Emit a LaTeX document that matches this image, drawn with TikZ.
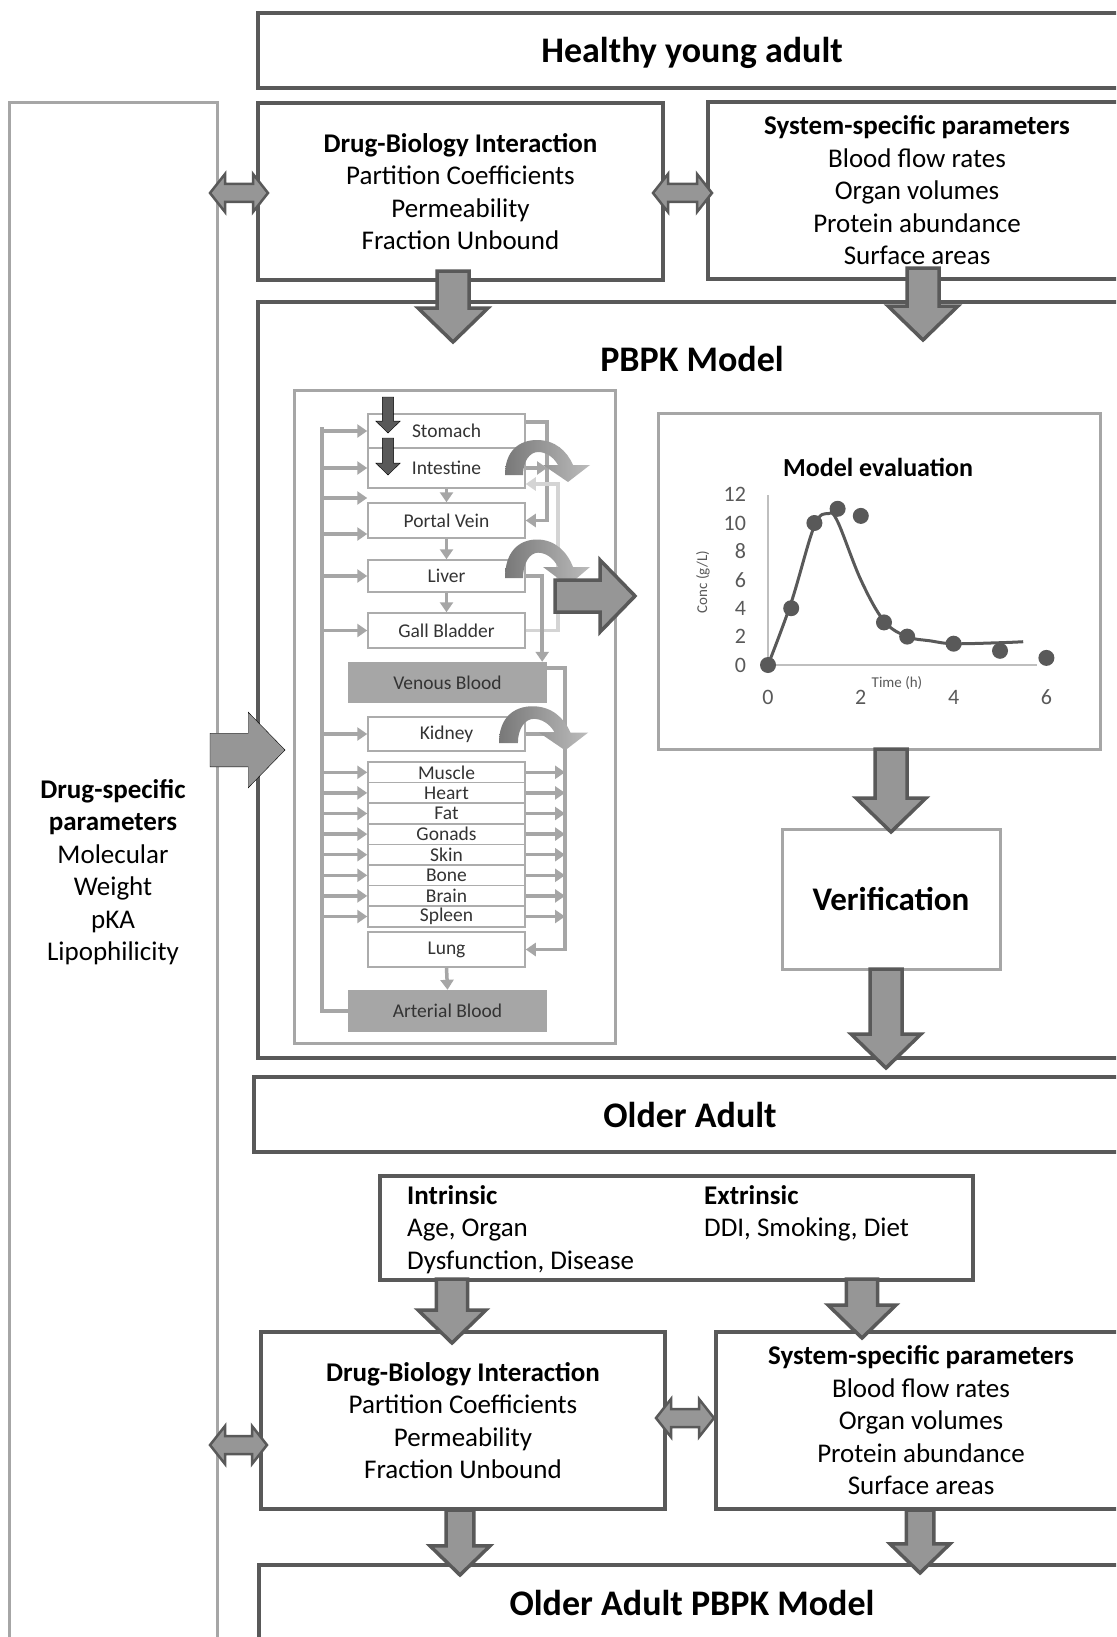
\documentclass[tikz,border=0pt]{standalone}
\usepackage{fontspec}
\setmainfont{Carlito}
\usetikzlibrary{arrows.meta,positioning,calc}

% flechas gruesas (estilo, escala, inicio, punta)
\newcommand{\flechaabajo}[4][bloque]{%
  \draw[#1] ($(#3)+(-16*#2,0)$) -- ($(#4)+(-16*#2,-34*#2)$) -- ($(#4)+(-35*#2,-34*#2)$) -- (#4)
    -- ($(#4)+(35*#2,-34*#2)$) -- ($(#4)+(16*#2,-34*#2)$) -- ($(#3)+(16*#2,0)$) -- cycle;}
\newcommand{\flechaderecha}[4][bloque]{%
  \draw[#1] ($(#3)+(0,-16*#2)$) -- ($(#4)+(-35*#2,-16*#2)$) -- ($(#4)+(-35*#2,-36*#2)$) -- (#4)
    -- ($(#4)+(-35*#2,36*#2)$) -- ($(#4)+(-35*#2,16*#2)$) -- ($(#3)+(0,16*#2)$) -- cycle;}
\newcommand{\flechadoble}[2]{%
  \draw[bloque, line width=2.5pt] (#1) -- ($(#1)+(15,-19)$) -- ($(#1)+(15,-9)$) -- ($(#2)+(-15,-9)$)
    -- ($(#2)+(-15,-19)$) -- (#2) -- ($(#2)+(-15,19)$) -- ($(#2)+(-15,9)$) -- ($(#1)+(15,9)$)
    -- ($(#1)+(15,19)$) -- cycle;}

\begin{document}
\begin{tikzpicture}[
        x=1pt, y=-1pt, % un punto por pixel, eje y hacia abajo
        >={Triangle[length=10pt,width=13pt]},
        caja/.style={draw=grisosc, line width=4pt, fill=white, inner sep=0pt, align=center},
        cajaclara/.style={draw=grisclaro, line width=3pt, fill=white, inner sep=0pt, align=center},
        titulo/.style={font=\bfseries\fontsize{36}{40}\selectfont},
        texto/.style={font=\fontsize{27}{32.5}\selectfont},
        organo/.style={draw=grisorg, line width=1.5pt, fill=white, minimum width=157pt,
            inner sep=0pt, text=black!80, font=\fontsize{19.5}{20}\selectfont},
        sangre/.style={fill=grisclaro, minimum width=199pt, inner sep=0pt, text=black!80,
            font=\fontsize{19.5}{20}\selectfont},
        flechita/.style={->, draw=grisclaro, line width=3.5pt},
        bloque/.style={fill=grismed, draw=grisosc, line width=3.5pt, line join=miter},
        relleno/.style={fill=grismed},
        entrada/.style={fill=grisosc},
        etiqueta/.style={text=grisosc, inner sep=0pt, font=\fontsize{22}{24}\selectfont},
        gancho/.pic={
            \shade[left color=grisgancho, right color=grisclaro!75]
              (0,0) .. controls (0,-24) and (14,-35) .. (32,-35)
              .. controls (50,-35) and (62,-24) .. (68,-10) -- (85,-10) -- (63,7) -- (38,-10)
              -- (53,-10) .. controls (48,-19) and (40,-23) .. (33,-23)
              .. controls (25,-23) and (18,-14) .. (18,0) -- cycle;}
    ]

        % --- COLORES ---
        \definecolor{grisosc}{RGB}{89,89,89}
        \definecolor{grismed}{RGB}{150,150,150}
        \definecolor{grisclaro}{RGB}{166,166,166}
        \definecolor{grisorg}{RGB}{172,172,172}
        \definecolor{grisbilis}{RGB}{212,212,212}
        \definecolor{grisgancho}{RGB}{120,120,120}
        \definecolor{ejegris}{RGB}{191,191,191}

        % --- MARCO ---
        \useasboundingbox (0,0) rectangle (1116,1637);
        \clip (0,0) rectangle (1116,1637);
        \fill[white] (0,0) rectangle (1116,1637);

        % --- COLUMNA IZQUIERDA ---
        \node[cajaclara, minimum width=208pt, minimum height=1560pt] (ColIzq) at (113,883) {};
        \node[texto, align=center] (DrugSpec) at (113,872)
            {\textbf{Drug-specific}\\\textbf{parameters}\\Molecular\\Weight\\pKA\\Lipophilicity};

        % --- ADULTO JOVEN ---
        \node[caja, minimum width=868pt, minimum height=75pt] (Healthy) at (692,50.5) {};
        \node[titulo] (HealthyTitulo) at (692,52.5) {Healthy young adult};
        \node[caja, texto, minimum width=405pt, minimum height=177pt] (DBIyoung) at (460.5,191.5)
            {\textbf{Drug-Biology Interaction}\\Partition Coefficients\\Permeability\\Fraction Unbound};
        \node[caja, texto, minimum width=418pt, minimum height=177pt] (SSPyoung) at (917,190.5)
            {\textbf{System-specific parameters}\\Blood flow rates\\Organ volumes\\Protein abundance\\Surface areas};

        % --- MODELO PBPK ---
        \node[caja, minimum width=868pt, minimum height=756pt] (PBPK) at (692,680) {};
        \node[titulo] (PBPKtitulo) at (692,359) {PBPK Model};
        \node[cajaclara, minimum width=321pt, minimum height=653pt] (Panel) at (454.5,716.5) {};

        % organos
        \node[organo, minimum height=34pt] (Stomach) at (446.5,431) {Stomach};
        \node[organo, minimum height=40pt] (Intestine) at (446.5,468) {Intestine};
        \node[organo, minimum height=35pt] (PortalVein) at (446.5,520.5) {Portal Vein};
        \node[organo, minimum height=32pt] (Liver) at (446.5,576) {Liver};
        \node[organo, minimum height=35pt] (GallBladder) at (446.5,630.5) {Gall Bladder};
        \node[sangre, minimum height=41pt] (VenousBlood) at (447.5,682.5) {Venous Blood};
        \node[organo, minimum height=34pt] (Kidney) at (446.5,734) {Kidney};
        \foreach \org [count=\i] in {Muscle,Heart,Fat,Gonads,Skin,Bone,Brain,Spleen}
            \node[organo, minimum height=20.6pt] (O\i) at (446.5,751.7+20.6*\i) {\org};
        \node[organo, minimum height=35pt] (Lung) at (446.5,949.5) {Lung};
        \node[sangre, minimum height=42pt] (ArterialBlood) at (447.5,1011) {Arterial Blood};

        % lineas de flujo
        \coordinate (LineaIzq) at (322,427);
        \coordinate (LineaMed) at (547,422);
        \coordinate (LineaBilis) at (558,484);
        \coordinate (LineaDer) at (565,668);
        \draw[flechita, -] (ArterialBlood.west) -| (LineaIzq);
        \foreach \org in {Stomach,Intestine,Liver,GallBladder,Kidney}
            \draw[flechita] (LineaIzq |- \org.west) -- (\org.west);
        \draw[flechita] (LineaIzq |- 0,498) -- (PortalVein.west |- 0,498);
        \draw[flechita] (LineaIzq |- 0,534) -- (PortalVein.west |- 0,534);
        \foreach \i in {1,...,8}{
            \draw[flechita] (LineaIzq |- O\i.west) -- (O\i.west);
            \draw[flechita] (O\i.east) -- (LineaDer |- O\i.east);
        }
        \draw[flechita] (Stomach.east |- LineaMed) -- (LineaMed) |- (PortalVein.east);
        \draw[flechita] (Intestine.east) -- (LineaMed |- Intestine.east);
        \draw[flechita, draw=grisbilis] (GallBladder.east) -| (LineaBilis) -- (Intestine.east |- LineaBilis);
        \draw[flechita] (Liver.east) -| ($(VenousBlood.north east)+(-5,0)$);
        \draw[flechita] (VenousBlood.east |- LineaDer) -- (LineaDer) |- (Lung.east);
        \draw[flechita] (Kidney.east) -- (LineaDer |- Kidney.east);
        \draw[flechita] (Intestine.south) -- (PortalVein.north);
        \draw[flechita] (PortalVein.south) -- (Liver.north);
        \draw[flechita] (Liver.south) -- (GallBladder.north);
        \draw[flechita] (Lung.south) -- (ArterialBlood.north);

        % ganchos de eliminacion
        \pic at (505,475) {gancho};
        \pic[yscale=1.1] at (505,578) {gancho};
        \pic[xscale=1.05, yscale=1.05] at (499,743) {gancho};

        % dosis oral
        \coordinate (DosisA) at (388,397);
        \coordinate (DosisAp) at (388,433);
        \coordinate (DosisB) at (388,438);
        \coordinate (DosisBp) at (388,475);
        \flechaabajo[entrada]{0.35}{DosisA}{DosisAp}
        \flechaabajo[entrada]{0.35}{DosisB}{DosisBp}

        % --- EVALUACION DEL MODELO ---
        \node[cajaclara, minimum width=442pt, minimum height=336pt] (Grafica) at (879,581) {};
        \node[font=\bfseries\fontsize{26}{28}\selectfont] (ModelEval) at (878,467) {Model evaluation};
        \begin{scope}[shift={(768,665)}, x=46.4pt, y=14.2pt]
            \draw[ejegris, line width=2.5pt] (0,0) -- (0,12);
            \draw[ejegris, line width=1.5pt] (0,0) -- (5.8,0);
            \foreach \v in {0,2,...,12}
                \node[etiqueta, anchor=east] (Y\v) at (-0.47,\v) {\v};
            \foreach \v in {0,2,4,6}
                \node[etiqueta] (X\v) at (\v,-2.25) {\v};
            \node[etiqueta, font=\fontsize{15}{16}\selectfont] (Tiempo) at (2.78,-1.27) {Time (h)};
            \node[etiqueta, font=\fontsize{15}{16}\selectfont, rotate=90] (Conc) at (-1.4,5.85) {Conc (g/L)};
            \foreach \t/\c in {0/0, 0.5/4, 1/10, 1.5/11, 2/10.5, 2.5/3, 3/2, 4/1.5, 5/1, 6/0.5}
                \fill[grisosc] (\t,\c) circle (8pt);
            \draw[grisosc, line width=3pt] plot[smooth, tension=0.6] coordinates
                {(0,0) (0.5,4.4) (1,9.8) (1.3,10.66) (1.5,10.1) (2,6.0) (2.5,3.1) (3,2.0)
                 (3.5,1.7) (4,1.5) (5,1.57) (5.5,1.64)};
        \end{scope}

        \node[cajaclara, font=\bfseries\fontsize{33}{36}\selectfont, minimum width=218pt,
            minimum height=140pt] (Verification) at (891,899) {Verification};

        % --- ADULTO MAYOR ---
        \node[caja, titulo, minimum width=872pt, minimum height=75pt] (Older) at (690,1114.5) {Older Adult};
        \node[caja, minimum width=593pt, minimum height=104pt] (Factores) at (676.5,1228) {};
        \node[texto, align=left, anchor=north west, inner sep=0pt] (Intrinsic) at (407,1185)
            {\textbf{Intrinsic}\\Age, Organ\\Dysfunction, Disease};
        \node[texto, align=left, anchor=north west, inner sep=0pt] (Extrinsic) at (704,1185)
            {\textbf{Extrinsic}\\DDI, Smoking, Diet};
        \node[caja, texto, minimum width=404pt, minimum height=177pt] (DBIold) at (463,1420.5)
            {\textbf{Drug-Biology Interaction}\\Partition Coefficients\\Permeability\\Fraction Unbound};
        \node[caja, texto, minimum width=410pt, minimum height=177pt] (SSPold) at (921,1420.5)
            {\textbf{System-specific parameters}\\Blood flow rates\\Organ volumes\\Protein abundance\\Surface areas};
        \node[caja, minimum width=867pt, minimum height=100pt] (OlderPBPK) at (692.5,1615) {};
        \node[titulo] (OlderPBPKtitulo) at (692,1603) {Older Adult PBPK Model};

        % --- FLECHAS GRUESAS ---
        \coordinate (F1) at (453,271);   \coordinate (F1p) at (453,342);
        \coordinate (F2) at (923,268);   \coordinate (F2p) at (923,340);
        \coordinate (F3) at (891,749);   \coordinate (F3p) at (891,832);
        \coordinate (F4) at (886,969);   \coordinate (F4p) at (886,1068);
        \coordinate (F5) at (452,1279);  \coordinate (F5p) at (452,1343);
        \coordinate (F6) at (862,1279);  \coordinate (F6p) at (862,1338);
        \coordinate (F7) at (460,1510);  \coordinate (F7p) at (460,1575);
        \coordinate (F8) at (920,1510);  \coordinate (F8p) at (920,1573);
        \flechaabajo{1}{F1}{F1p}
        \flechaabajo{1}{F2}{F2p}
        \flechaabajo{1}{F3}{F3p}
        \flechaabajo{1}{F4}{F4p}
        \flechaabajo{0.97}{F5}{F5p}
        \flechaabajo{0.97}{F6}{F6p}
        \flechaabajo{0.86}{F7}{F7p}
        \flechaabajo{0.86}{F8}{F8p}

        \coordinate (G1) at (555,596);   \coordinate (G1p) at (635,596);
        \coordinate (G2) at (210,750);   \coordinate (G2p) at (285,750);
        \flechaderecha{1}{G1}{G1p}
        \flechaderecha[relleno]{1.05}{G2}{G2p}

        % flechas dobles
        \coordinate (DA1) at (210,193);  \coordinate (DB1) at (268,193);
        \coordinate (DA2) at (653,193);  \coordinate (DB2) at (712,193);
        \coordinate (DA3) at (210,1445); \coordinate (DB3) at (267,1445);
        \coordinate (DA4) at (656,1418); \coordinate (DB4) at (714,1418);
        \flechadoble{DA1}{DB1}
        \flechadoble{DA2}{DB2}
        \flechadoble{DA3}{DB3}
        \flechadoble{DA4}{DB4}

    \end{tikzpicture}
\end{document}
